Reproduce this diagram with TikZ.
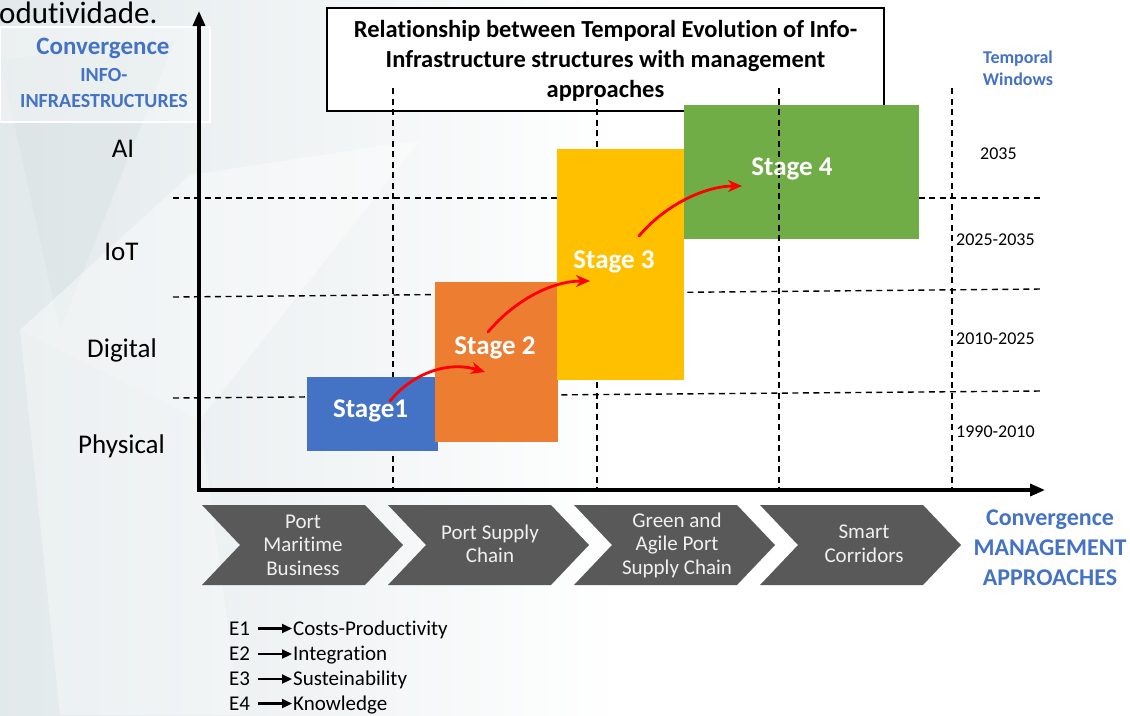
\documentclass[tikz,border=0pt]{standalone}
\usepackage{fontspec}
\setmainfont{Carlito}[Ligatures=NoCommon]
\usetikzlibrary{arrows.meta,calc}

\definecolor{stageblue}{HTML}{4472C4}
\definecolor{stageorange}{HTML}{ED7D31}
\definecolor{stageyellow}{HTML}{FFC000}
\definecolor{stagegreen}{HTML}{70AD47}
\definecolor{chevgray}{HTML}{595959}
\definecolor{headblue}{HTML}{4472C4}
\definecolor{bgtint}{HTML}{E2E9EB}
\definecolor{bgfacet}{HTML}{D9E1E3}

\newcommand\fsz[2]{\fontsize{#1}{#2}\selectfont}

\begin{document}
\begin{tikzpicture}[x=1pt,y=-1pt,
  gridline/.style={dash pattern=on 6pt off 4.5pt, line width=1.4pt, black},
  axisline/.style={line width=3.4pt, line join=miter,
    {Triangle[length=15pt,width=12pt]}-{Triangle[length=15pt,width=12pt]}},
  stagebox/.style={draw=none, inner sep=0pt, outer sep=0pt},
  stagelbl/.style={text=white, font=\bfseries\fsz{27}{32}, anchor=base, inner sep=0pt},
  flow/.style={red, line width=2.8pt, line cap=round, -{Stealth[length=14pt,width=12pt]}},
  ylbl/.style={font=\fsz{27}{32}, anchor=base, inner sep=0pt},
  yearlbl/.style={font=\fsz{18}{22}, anchor=west, inner sep=0pt},
  chevron/.style={fill=chevgray},
  chevtxt/.style={text=white!94!black, align=center, font=\fsz{21}{23.5}, inner sep=0pt},
  bluehead/.style={text=headblue, font=\bfseries, align=center, inner sep=0pt},
  legtxt/.style={font=\fsz{21}{24}, anchor=base west, inner sep=0pt},
  legarrow/.style={line width=2.2pt, -{Triangle[length=10pt,width=9pt]}},
]
\useasboundingbox (0,0) rectangle (1130,715);

% soft slide background
\fill[white] (0,0) rectangle (1130,715);
\shade[left color=bgtint, right color=white] (0,0) rectangle (620,715);
\fill[bgfacet, opacity=0.45] (0,60) -- (175,40) -- (60,330) -- cycle;
\fill[white, opacity=0.4] (20,330) -- (190,175) -- (420,140) -- (200,420) -- cycle;
\fill[white, opacity=0.3] (60,715) -- (20,330) -- (200,420) -- (240,715) -- cycle;

% caption text running in from the left
\node[font=\fsz{31}{36}, anchor=base west, inner sep=0pt] (cap) at (-1,23) {odutividade.};

% vertical axis heading
\draw[white, line width=1.2pt, fill=white, fill opacity=0.35] (0,27) rectangle (210,122);
\node[bluehead, font=\bfseries\fsz{25}{28}] (vh1) at (103,48) {Convergence};
\node[bluehead, font=\bfseries\fsz{20}{24}] (vh2) at (104,75) {INFO-};
\node[bluehead, font=\bfseries\fsz{20}{24}] (vh3) at (104,101) {INFRAESTRUCTURES};

% title box
\node[draw=black, line width=1.1pt, fill=white, minimum width=557pt, minimum height=103pt,
      inner sep=0pt] (titlebox) at (605.5,59.5) {};
\node[align=center, font=\bfseries\fsz{24.5}{30}, inner sep=0pt] (title) at (605.5,61)
  {Relationship between Temporal Evolution of Info-\\Infrastructure structures with management\\approaches};

% grid: horizontal level separators
\draw[gridline] (173,198) -- (1042,198);
\draw[gridline] (173,297) -- (1042,289);
\draw[gridline] (173,398) -- (1042,391);
% grid: vertical period separators
\draw[gridline] (393,88) -- (393,490);
\draw[gridline] (597,88) -- (597,490);
\draw[gridline] (952,88) -- (952,490);

% stages
\node[stagebox, fill=stageblue,   minimum width=131pt, minimum height=74pt]  (s1) at (372.5,414) {};
\node[stagebox, fill=stageorange, minimum width=123pt, minimum height=160pt] (s2) at (496.5,362) {};
\node[stagebox, fill=stageyellow, minimum width=127pt, minimum height=231pt] (s3) at (620.5,264.5) {};
\node[stagebox, fill=stagegreen,  minimum width=235pt, minimum height=134pt] (s4) at (801.5,172) {};

% this separator runs over the green stage
\draw[gridline] (779,88) -- (779,490);

\node[stagelbl] (s1t) at (370.5,417) {Stage1};
\node[stagelbl] (s2t) at (495,354) {Stage 2};
\node[stagelbl] (s3t) at (614,268) {Stage 3};
\node[stagelbl] (s4t) at (792,175) {Stage 4};

% transitions between stages
\coordinate (f1a) at (390,401);
\coordinate (f1b) at (485,372);
\coordinate (f2a) at (488,332);
\coordinate (f2b) at (590,281);
\coordinate (f3a) at (639,236);
\coordinate (f3b) at (742,186);
\draw[flow] (f1a) .. controls (410,376) and (445,360) .. (f1b);
\draw[flow] (f2a) .. controls (515,300) and (552,281) .. (f2b);
\draw[flow] (f3a) .. controls (665,205) and (705,186) .. (f3b);

% axes
\coordinate (O) at (199,490);
\coordinate (ytip) at (199,11);
\coordinate (xtip) at (1045,490);
\draw[axisline] (ytip) -- (O) -- (xtip);

% level labels
\node[ylbl] (lai)  at (123,157) {AI};
\node[ylbl] (liot) at (121.5,260) {IoT};
\node[ylbl] (ldig) at (122,357) {Digital};
\node[ylbl] (lphy) at (121.5,453) {Physical};

% temporal windows
\node[bluehead, font=\bfseries\fsz{18}{22}] (tw) at (1018,68) {Temporal\\Windows};
\node[yearlbl] (y4) at (980,154) {2035};
\node[yearlbl] (y3) at (956,240) {2025-2035};
\node[yearlbl] (y2) at (956,339) {2010-2025};
\node[yearlbl] (y1) at (956,432) {1990-2010};

% management approaches (chevrons)
\foreach \x/\n in {202/1, 388/2, 574/3, 760/4} {
  \fill[chevron] (\x,505) -- ++(163,0) -- ++(38,40) -- ++(-38,40) -- ++(-163,0) -- ++(38,-40) -- cycle;
}
\node[chevtxt] (c1) at (303,545) {Port\\Maritime\\Business};
\node[chevtxt] (c2) at (490,544) {Port Supply\\Chain};
\node[chevtxt] (c3) at (677,545) {Green and\\Agile Port\\Supply Chain};
\node[chevtxt] (c4) at (864,544) {Smart\\Corridors};

\node[bluehead, font=\bfseries\fsz{24}{30}] (mh) at (1050,548) {Convergence\\MANAGEMENT\\APPROACHES};

% legend: each entry is label, arrow, meaning (all on one baseline)
\foreach \i/\yy/\t in {1/635/Costs-Productivity, 2/660.5/Integration, 3/685.5/Susteinability, 4/710/Knowledge} {
  \node[legtxt] (e\i) at (229,\yy) {E\i};
  \node[legtxt] (d\i) at (293,\yy) {\t};
  \coordinate (ls\i) at (258,\yy-6.5);
  \coordinate (le\i) at (292,\yy-6.5);
  \draw[legarrow] (ls\i) -- (le\i);
}
\end{tikzpicture}
\end{document}
